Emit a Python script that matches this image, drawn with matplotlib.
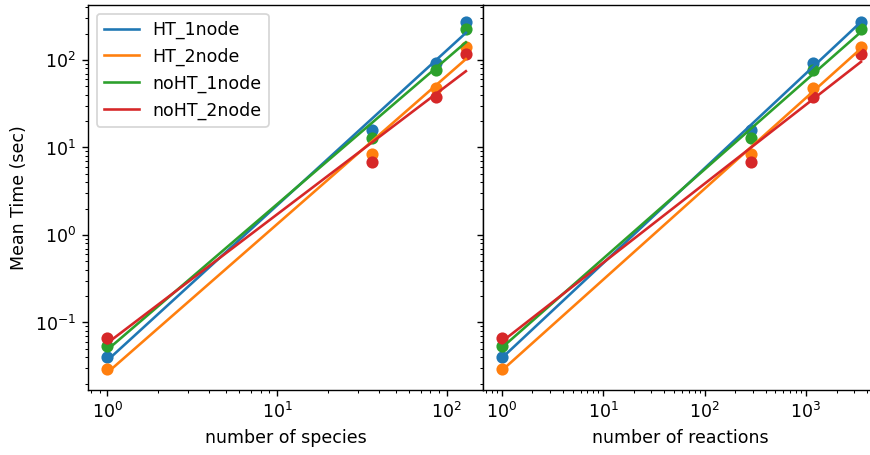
import numpy as np
import matplotlib.pyplot as plt

n_species = [1, 36.4, 86, 129.5]
n_reactions = [1, 287, 1165, 3486]

labels = ["HT_1node", "HT_2node", "noHT_1node", "noHT_2node"]
mean_time = {
    "HT_1node":   [0.040, 15.9, 93.0, 270.0],
    "HT_2node":   [0.0294, 8.36, 47.5, 142.0],
    "noHT_1node": [0.0543, 12.9, 76.9, 224.0],
    "noHT_2node": [0.067, 6.78, 38.1, 117.0],
}
colors = ["tab:blue", "tab:orange", "tab:green", "tab:red"]


def draw(ax, x):
    x = np.asarray(x, dtype=float)
    for lab, c in zip(labels, colors):
        y = np.asarray(mean_time[lab])
        ax.scatter(x, y, color=c)
        # power law fit in log-log space
        k, b = np.polyfit(np.log10(x), np.log10(y), 1)
        ax.plot(x, 10 ** (k * np.log10(x) + b), color=c, label=lab)
    ax.set_xscale("log")
    ax.set_yscale("log")


fig, (ax1, ax2) = plt.subplots(1, 2, sharey=True, figsize=(6.96, 3.64), dpi=125)
# the right panel runs a little past the edge of the saved picture
fig.subplots_adjust(left=0.1015, right=1.0095, top=0.989, bottom=0.143, wspace=0)

draw(ax1, n_species)
draw(ax2, n_reactions)

ax1.set_xlim(0.773, 164)
ax2.set_xlim(0.659, 5160)
ax1.set_ylim(0.01694, 425)

ax1.set_xlabel("number of species")
ax2.set_xlabel("number of reactions")
ax1.set_ylabel("Mean Time (sec)")
ax1.legend(loc="upper left")

fig.savefig("out.png")
